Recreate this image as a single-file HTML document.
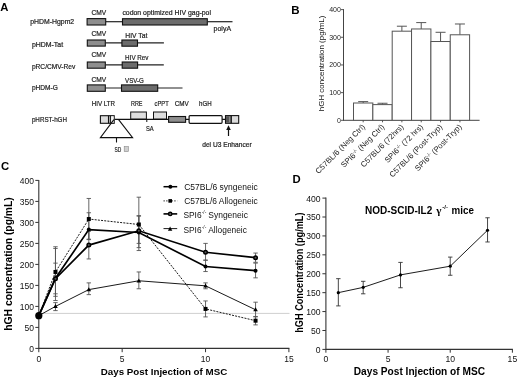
<!DOCTYPE html>
<html><head><meta charset="utf-8"><title>Figure</title>
<style>
html,body{margin:0;padding:0;background:#fff;}
body{width:520px;height:381px;overflow:hidden;}
svg{display:block;font-family:"Liberation Sans", sans-serif;filter:blur(0.3px);}
</style></head>
<body>
<svg width="520" height="381" viewBox="0 0 520 381">
<rect x="0" y="0" width="520" height="381" fill="#fff"/>
<text x="0.2" y="11" font-size="11.3" font-weight="bold" text-anchor="start" fill="#000">A</text>
<text x="291.3" y="14.1" font-size="11.5" font-weight="bold" text-anchor="start" fill="#000">B</text>
<text x="1.0" y="169.6" font-size="11.3" font-weight="bold" text-anchor="start" fill="#000">C</text>
<text x="292.6" y="182.8" font-size="11.3" font-weight="bold" text-anchor="start" fill="#000">D</text>
<text x="30.3" y="23.5" font-size="7.2" text-anchor="start" fill="#1a1a1a" textLength="43.9" lengthAdjust="spacingAndGlyphs" stroke="#1a1a1a" stroke-width="0.2">pHDM-Hgpm2</text>
<text x="31.9" y="47.3" font-size="7.2" text-anchor="start" fill="#1a1a1a" textLength="31.2" lengthAdjust="spacingAndGlyphs" stroke="#1a1a1a" stroke-width="0.2">pHDM-Tat</text>
<text x="31.9" y="69.2" font-size="7.2" text-anchor="start" fill="#1a1a1a" textLength="43.4" lengthAdjust="spacingAndGlyphs" stroke="#1a1a1a" stroke-width="0.2">pRC/CMV-Rev</text>
<text x="31.9" y="89.8" font-size="7.2" text-anchor="start" fill="#1a1a1a" textLength="25.9" lengthAdjust="spacingAndGlyphs" stroke="#1a1a1a" stroke-width="0.2">pHDM-G</text>
<text x="31.9" y="122.3" font-size="7.2" text-anchor="start" fill="#1a1a1a" textLength="35.1" lengthAdjust="spacingAndGlyphs" stroke="#1a1a1a" stroke-width="0.2">pHRST-hGH</text>
<line x1="106" y1="21.7" x2="122.2" y2="21.7" stroke="#222" stroke-width="1.2"/>
<line x1="207.6" y1="21.7" x2="232.5" y2="21.7" stroke="#222" stroke-width="1.2"/>
<rect x="87.1" y="18.6" width="18.6" height="6.4" fill="#8e8e8e" stroke="#111" stroke-width="1.1"/>
<rect x="122.5" y="18.7" width="84.8" height="6.3" fill="#6c6c6c" stroke="#111" stroke-width="1.1"/>
<text x="91.6" y="15.0" font-size="7.2" text-anchor="start" fill="#1a1a1a" textLength="14.7" lengthAdjust="spacingAndGlyphs" stroke="#1a1a1a" stroke-width="0.2">CMV</text>
<text x="122.4" y="15.3" font-size="7.2" text-anchor="start" fill="#1a1a1a" textLength="88.6" lengthAdjust="spacingAndGlyphs" stroke="#1a1a1a" stroke-width="0.2">codon optimized HIV gag-pol</text>
<text x="213.6" y="31.2" font-size="7.2" text-anchor="start" fill="#1a1a1a" textLength="17.5" lengthAdjust="spacingAndGlyphs" stroke="#1a1a1a" stroke-width="0.2">polyA</text>
<line x1="105.6" y1="42.8" x2="163.9" y2="42.8" stroke="#222" stroke-width="1.2"/>
<rect x="87.3" y="40.0" width="18.0" height="6.1" fill="#8e8e8e" stroke="#111" stroke-width="1.1"/>
<rect x="121.9" y="40.0" width="15.6" height="6.2" fill="#6c6c6c" stroke="#111" stroke-width="1.1"/>
<text x="91.6" y="36.0" font-size="7.2" text-anchor="start" fill="#1a1a1a" textLength="14.7" lengthAdjust="spacingAndGlyphs" stroke="#1a1a1a" stroke-width="0.2">CMV</text>
<text x="125.3" y="37.7" font-size="7.2" text-anchor="start" fill="#1a1a1a" textLength="22.0" lengthAdjust="spacingAndGlyphs" stroke="#1a1a1a" stroke-width="0.2">HIV Tat</text>
<line x1="105.6" y1="64.9" x2="163.8" y2="64.9" stroke="#222" stroke-width="1.2"/>
<rect x="87.3" y="62.0" width="18.0" height="6.2" fill="#8e8e8e" stroke="#111" stroke-width="1.1"/>
<rect x="122.2" y="62.0" width="15.4" height="6.2" fill="#6c6c6c" stroke="#111" stroke-width="1.1"/>
<text x="91.6" y="56.8" font-size="7.2" text-anchor="start" fill="#1a1a1a" textLength="14.7" lengthAdjust="spacingAndGlyphs" stroke="#1a1a1a" stroke-width="0.2">CMV</text>
<text x="125.1" y="59.7" font-size="7.2" text-anchor="start" fill="#1a1a1a" textLength="23.4" lengthAdjust="spacingAndGlyphs" stroke="#1a1a1a" stroke-width="0.2">HIV Rev</text>
<line x1="105.6" y1="88.0" x2="182.5" y2="88.0" stroke="#222" stroke-width="1.2"/>
<rect x="87.3" y="84.9" width="18.0" height="6.4" fill="#8e8e8e" stroke="#111" stroke-width="1.1"/>
<rect x="121.5" y="84.9" width="36.2" height="6.4" fill="#6c6c6c" stroke="#111" stroke-width="1.1"/>
<text x="91.6" y="81.9" font-size="7.2" text-anchor="start" fill="#1a1a1a" textLength="14.7" lengthAdjust="spacingAndGlyphs" stroke="#1a1a1a" stroke-width="0.2">CMV</text>
<text x="125.1" y="82.8" font-size="7.2" text-anchor="start" fill="#1a1a1a" textLength="18.8" lengthAdjust="spacingAndGlyphs" stroke="#1a1a1a" stroke-width="0.2">VSV-G</text>
<line x1="114.6" y1="119.3" x2="225" y2="119.3" stroke="#111" stroke-width="1.2"/>
<rect x="100.4" y="115.7" width="13.8" height="7.6" fill="#dcdcdc" stroke="#111" stroke-width="1.1"/>
<line x1="108.6" y1="115.7" x2="108.6" y2="123.3" stroke="#111" stroke-width="1.3"/>
<line x1="110.6" y1="115.7" x2="110.6" y2="123.3" stroke="#111" stroke-width="1.0"/>
<rect x="111.2" y="116.3" width="2.4" height="6.4" fill="#f4f4f4" stroke="none" stroke-width="0"/>
<path d="M113.9 119.7 L100.4 137.6 L132.6 137.6 L118.6 119.7" fill="none" stroke="#111" stroke-width="1.1"/>
<line x1="116.5" y1="137.6" x2="116.5" y2="142.5" stroke="#111" stroke-width="1.1"/>
<text x="114.4" y="151.6" font-size="7.2" text-anchor="start" fill="#1a1a1a" textLength="6.8" lengthAdjust="spacingAndGlyphs" stroke="#1a1a1a" stroke-width="0.2">SD</text>
<rect x="124.2" y="146.6" width="4.2" height="5.0" fill="#cfcfcf" stroke="#888" stroke-width="0.6"/>
<rect x="130.7" y="112.0" width="15.7" height="7.0" fill="#dedede" stroke="#111" stroke-width="1.0"/>
<rect x="153.5" y="112.0" width="13.0" height="7.0" fill="#dedede" stroke="#111" stroke-width="1.0"/>
<line x1="146.8" y1="119.3" x2="146.8" y2="122.0" stroke="#111" stroke-width="1.0"/>
<text x="145.9" y="131.4" font-size="7.2" text-anchor="start" fill="#1a1a1a" textLength="7.7" lengthAdjust="spacingAndGlyphs" stroke="#1a1a1a" stroke-width="0.2">SA</text>
<text x="131.0" y="105.7" font-size="7.2" text-anchor="start" fill="#1a1a1a" textLength="11.5" lengthAdjust="spacingAndGlyphs" stroke="#1a1a1a" stroke-width="0.2">RRE</text>
<text x="154.6" y="105.7" font-size="7.2" text-anchor="start" fill="#1a1a1a" textLength="14.1" lengthAdjust="spacingAndGlyphs" stroke="#1a1a1a" stroke-width="0.2">cPPT</text>
<text x="91.7" y="106.2" font-size="7.2" text-anchor="start" fill="#1a1a1a" textLength="23.4" lengthAdjust="spacingAndGlyphs" stroke="#1a1a1a" stroke-width="0.2">HIV LTR</text>
<text x="174.7" y="105.7" font-size="7.2" text-anchor="start" fill="#1a1a1a" textLength="14.1" lengthAdjust="spacingAndGlyphs" stroke="#1a1a1a" stroke-width="0.2">CMV</text>
<text x="199.0" y="105.7" font-size="7.2" text-anchor="start" fill="#1a1a1a" textLength="12.6" lengthAdjust="spacingAndGlyphs" stroke="#1a1a1a" stroke-width="0.2">hGH</text>
<rect x="168.6" y="116.5" width="17.0" height="5.8" fill="#8e8e8e" stroke="#111" stroke-width="1.1"/>
<rect x="189.1" y="115.6" width="33.0" height="7.7" fill="#ffffff" stroke="#111" stroke-width="1.2" rx="1"/>
<rect x="225.5" y="115.6" width="13.2" height="7.7" fill="#dcdcdc" stroke="#111" stroke-width="1.1"/>
<rect x="226.0" y="116.1" width="3.0" height="6.7" fill="#555" stroke="none" stroke-width="0"/>
<line x1="230.1" y1="115.6" x2="230.1" y2="123.3" stroke="#111" stroke-width="1.0"/>
<line x1="231.4" y1="115.6" x2="231.4" y2="123.3" stroke="#111" stroke-width="1.0"/>
<line x1="228.5" y1="128.5" x2="228.5" y2="136.0" stroke="#111" stroke-width="1.2"/>
<path d="M228.5 125.3 L226.2 130.0 L230.8 130.0 Z" fill="#111"/>
<text x="202.2" y="146.8" font-size="7.2" text-anchor="start" fill="#1a1a1a" textLength="49.5" lengthAdjust="spacingAndGlyphs" stroke="#1a1a1a" stroke-width="0.2">del U3 Enhancer</text>
<line x1="343.5" y1="9.1" x2="343.5" y2="120.8" stroke="#444" stroke-width="1.0"/>
<line x1="343.5" y1="120.3" x2="479.6" y2="120.3" stroke="#444" stroke-width="1.0"/>
<line x1="341.0" y1="120.3" x2="343.5" y2="120.3" stroke="#444" stroke-width="0.9"/>
<text x="340.9" y="122.8" font-size="7.0" text-anchor="end" fill="#222">0</text>
<line x1="341.0" y1="92.625" x2="343.5" y2="92.625" stroke="#444" stroke-width="0.9"/>
<text x="340.9" y="95.125" font-size="7.0" text-anchor="end" fill="#222">100</text>
<line x1="341.0" y1="64.94999999999999" x2="343.5" y2="64.94999999999999" stroke="#444" stroke-width="0.9"/>
<text x="340.9" y="67.44999999999999" font-size="7.0" text-anchor="end" fill="#222">200</text>
<line x1="341.0" y1="37.27499999999999" x2="343.5" y2="37.27499999999999" stroke="#444" stroke-width="0.9"/>
<text x="340.9" y="39.77499999999999" font-size="7.0" text-anchor="end" fill="#222">300</text>
<line x1="341.0" y1="9.599999999999994" x2="343.5" y2="9.599999999999994" stroke="#444" stroke-width="0.9"/>
<text x="340.9" y="12.099999999999994" font-size="7.0" text-anchor="end" fill="#222">400</text>
<text x="0" y="0" font-size="8.0" text-anchor="middle" fill="#111" textLength="95.6" lengthAdjust="spacingAndGlyphs" transform="translate(324.3 63.4) rotate(-90)">hGH concentration (pg/mL)</text>
<line x1="363.175" y1="103.003125" x2="363.175" y2="101.61937499999999" stroke="#555" stroke-width="1.0"/>
<line x1="358.175" y1="101.61937499999999" x2="368.175" y2="101.61937499999999" stroke="#555" stroke-width="1.0"/>
<rect x="353.5" y="103.003125" width="19.350000000000023" height="17.296875" fill="#fff" stroke="#555" stroke-width="1"/>
<line x1="363.175" y1="120.3" x2="363.175" y2="122.3" stroke="#444" stroke-width="0.9"/>
<text font-size="7.8" text-anchor="end" fill="#222" transform="translate(365.475 127.3) rotate(-45)">C57BL/6 (Neg Ctrl)</text>
<line x1="382.525" y1="104.60827499999999" x2="382.525" y2="103.2522" stroke="#555" stroke-width="1.0"/>
<line x1="377.525" y1="103.2522" x2="387.525" y2="103.2522" stroke="#555" stroke-width="1.0"/>
<rect x="372.85" y="104.60827499999999" width="19.349999999999966" height="15.691725000000005" fill="#fff" stroke="#555" stroke-width="1"/>
<line x1="382.525" y1="120.3" x2="382.525" y2="122.3" stroke="#444" stroke-width="0.9"/>
<text font-size="7.8" text-anchor="end" fill="#222" transform="translate(384.825 127.3) rotate(-45)">SPI6<tspan dy="-2.6" font-size="5">-/-</tspan><tspan dy="2.6"> (Neg Ctrl)</tspan></text>
<line x1="401.875" y1="31.186499999999995" x2="401.875" y2="26.205" stroke="#555" stroke-width="1.0"/>
<line x1="396.875" y1="26.205" x2="406.875" y2="26.205" stroke="#555" stroke-width="1.0"/>
<rect x="392.2" y="31.186499999999995" width="19.350000000000023" height="89.1135" fill="#fff" stroke="#555" stroke-width="1"/>
<line x1="401.875" y1="120.3" x2="401.875" y2="122.3" stroke="#444" stroke-width="0.9"/>
<text font-size="7.8" text-anchor="end" fill="#222" transform="translate(404.175 127.3) rotate(-45)">C57BL/6 (72hrs)</text>
<line x1="421.225" y1="28.972499999999997" x2="421.225" y2="22.607249999999993" stroke="#555" stroke-width="1.0"/>
<line x1="416.225" y1="22.607249999999993" x2="426.225" y2="22.607249999999993" stroke="#555" stroke-width="1.0"/>
<rect x="411.55" y="28.972499999999997" width="19.349999999999966" height="91.3275" fill="#fff" stroke="#555" stroke-width="1"/>
<line x1="421.225" y1="120.3" x2="421.225" y2="122.3" stroke="#444" stroke-width="0.9"/>
<text font-size="7.8" text-anchor="end" fill="#222" transform="translate(423.52500000000003 127.3) rotate(-45)">SPI6<tspan dy="-2.6" font-size="5">-/-</tspan><tspan dy="2.6"> (72 hrs)</tspan></text>
<line x1="440.575" y1="41.509275" x2="440.575" y2="32.293499999999995" stroke="#555" stroke-width="1.0"/>
<line x1="435.575" y1="32.293499999999995" x2="445.575" y2="32.293499999999995" stroke="#555" stroke-width="1.0"/>
<rect x="430.9" y="41.509275" width="19.350000000000023" height="78.790725" fill="#fff" stroke="#555" stroke-width="1"/>
<line x1="440.575" y1="120.3" x2="440.575" y2="122.3" stroke="#444" stroke-width="0.9"/>
<text font-size="7.8" text-anchor="end" fill="#222" transform="translate(442.875 127.3) rotate(-45)">C57BL/6 (Post-Tryp)</text>
<line x1="459.925" y1="34.78425" x2="459.925" y2="23.991" stroke="#555" stroke-width="1.0"/>
<line x1="454.925" y1="23.991" x2="464.925" y2="23.991" stroke="#555" stroke-width="1.0"/>
<rect x="450.25" y="34.78425" width="19.350000000000023" height="85.51575" fill="#fff" stroke="#555" stroke-width="1"/>
<line x1="459.925" y1="120.3" x2="459.925" y2="122.3" stroke="#444" stroke-width="0.9"/>
<text font-size="7.8" text-anchor="end" fill="#222" transform="translate(462.225 127.3) rotate(-45)">SPI6<tspan dy="-2.6" font-size="5">-/-</tspan><tspan dy="2.6"> (Post-Tryp)</tspan></text>
<line x1="38.8" y1="313.4" x2="289.5" y2="313.4" stroke="#cfcfcf" stroke-width="1.0"/>
<line x1="38.8" y1="179.9" x2="38.8" y2="348.9" stroke="#333" stroke-width="1.1"/>
<line x1="38.8" y1="348.4" x2="289.4" y2="348.4" stroke="#333" stroke-width="1.1"/>
<line x1="35.3" y1="348.4" x2="38.8" y2="348.4" stroke="#333" stroke-width="1.0"/>
<text x="33.9" y="351.9" font-size="8.5" text-anchor="end" fill="#111">0</text>
<line x1="35.3" y1="327.4" x2="38.8" y2="327.4" stroke="#333" stroke-width="1.0"/>
<text x="33.9" y="330.9" font-size="8.5" text-anchor="end" fill="#111">50</text>
<line x1="35.3" y1="306.4" x2="38.8" y2="306.4" stroke="#333" stroke-width="1.0"/>
<text x="33.9" y="309.9" font-size="8.5" text-anchor="end" fill="#111">100</text>
<line x1="35.3" y1="285.4" x2="38.8" y2="285.4" stroke="#333" stroke-width="1.0"/>
<text x="33.9" y="288.9" font-size="8.5" text-anchor="end" fill="#111">150</text>
<line x1="35.3" y1="264.4" x2="38.8" y2="264.4" stroke="#333" stroke-width="1.0"/>
<text x="33.9" y="267.9" font-size="8.5" text-anchor="end" fill="#111">200</text>
<line x1="35.3" y1="243.39999999999998" x2="38.8" y2="243.39999999999998" stroke="#333" stroke-width="1.0"/>
<text x="33.9" y="246.89999999999998" font-size="8.5" text-anchor="end" fill="#111">250</text>
<line x1="35.3" y1="222.39999999999998" x2="38.8" y2="222.39999999999998" stroke="#333" stroke-width="1.0"/>
<text x="33.9" y="225.89999999999998" font-size="8.5" text-anchor="end" fill="#111">300</text>
<line x1="35.3" y1="201.39999999999998" x2="38.8" y2="201.39999999999998" stroke="#333" stroke-width="1.0"/>
<text x="33.9" y="204.89999999999998" font-size="8.5" text-anchor="end" fill="#111">350</text>
<line x1="35.3" y1="180.39999999999998" x2="38.8" y2="180.39999999999998" stroke="#333" stroke-width="1.0"/>
<text x="33.9" y="183.89999999999998" font-size="8.5" text-anchor="end" fill="#111">400</text>
<line x1="38.8" y1="348.4" x2="38.8" y2="352.2" stroke="#333" stroke-width="1.0"/>
<text x="38.8" y="361.7" font-size="8.5" text-anchor="middle" fill="#111">0</text>
<line x1="122.16666666666666" y1="348.4" x2="122.16666666666666" y2="352.2" stroke="#333" stroke-width="1.0"/>
<text x="122.16666666666666" y="361.7" font-size="8.5" text-anchor="middle" fill="#111">5</text>
<line x1="205.5333333333333" y1="348.4" x2="205.5333333333333" y2="352.2" stroke="#333" stroke-width="1.0"/>
<text x="205.5333333333333" y="361.7" font-size="8.5" text-anchor="middle" fill="#111">10</text>
<line x1="288.9" y1="348.4" x2="288.9" y2="352.2" stroke="#333" stroke-width="1.0"/>
<text x="288.9" y="361.7" font-size="8.5" text-anchor="middle" fill="#111">15</text>
<text x="0" y="0" font-size="10.2" font-weight="bold" text-anchor="middle" fill="#000" textLength="133.4" lengthAdjust="spacingAndGlyphs" transform="translate(11.8 264) rotate(-90)">hGH concentration (pg/mL)</text>
<text x="164.0" y="374.8" font-size="9.8" font-weight="bold" text-anchor="middle" fill="#000" textLength="126.5" lengthAdjust="spacingAndGlyphs">Days Post Injection of MSC</text>
<line x1="55.47333333333333" y1="293.79999999999995" x2="55.47333333333333" y2="263.14" stroke="#555" stroke-width="0.9"/>
<line x1="53.273333333333326" y1="293.79999999999995" x2="57.67333333333333" y2="293.79999999999995" stroke="#555" stroke-width="0.9"/>
<line x1="53.273333333333326" y1="263.14" x2="57.67333333333333" y2="263.14" stroke="#555" stroke-width="0.9"/>
<line x1="88.82" y1="239.2" x2="88.82" y2="212.73999999999998" stroke="#555" stroke-width="0.9"/>
<line x1="86.61999999999999" y1="239.2" x2="91.02" y2="239.2" stroke="#555" stroke-width="0.9"/>
<line x1="86.61999999999999" y1="212.73999999999998" x2="91.02" y2="212.73999999999998" stroke="#555" stroke-width="0.9"/>
<line x1="138.83999999999997" y1="247.59999999999997" x2="138.83999999999997" y2="216.1" stroke="#555" stroke-width="0.9"/>
<line x1="136.64" y1="247.59999999999997" x2="141.03999999999996" y2="247.59999999999997" stroke="#555" stroke-width="0.9"/>
<line x1="136.64" y1="216.1" x2="141.03999999999996" y2="216.1" stroke="#555" stroke-width="0.9"/>
<line x1="205.5333333333333" y1="271.53999999999996" x2="205.5333333333333" y2="260.2" stroke="#555" stroke-width="0.9"/>
<line x1="203.33333333333331" y1="271.53999999999996" x2="207.7333333333333" y2="271.53999999999996" stroke="#555" stroke-width="0.9"/>
<line x1="203.33333333333331" y1="260.2" x2="207.7333333333333" y2="260.2" stroke="#555" stroke-width="0.9"/>
<line x1="255.55333333333334" y1="277.84" x2="255.55333333333334" y2="263.14" stroke="#555" stroke-width="0.9"/>
<line x1="253.35333333333335" y1="277.84" x2="257.75333333333333" y2="277.84" stroke="#555" stroke-width="0.9"/>
<line x1="253.35333333333335" y1="263.14" x2="257.75333333333333" y2="263.14" stroke="#555" stroke-width="0.9"/>
<line x1="55.47333333333333" y1="296.32" x2="55.47333333333333" y2="246.76" stroke="#555" stroke-width="0.9"/>
<line x1="53.273333333333326" y1="296.32" x2="57.67333333333333" y2="296.32" stroke="#555" stroke-width="0.9"/>
<line x1="53.273333333333326" y1="246.76" x2="57.67333333333333" y2="246.76" stroke="#555" stroke-width="0.9"/>
<line x1="88.82" y1="239.61999999999998" x2="88.82" y2="198.45999999999998" stroke="#555" stroke-width="0.9"/>
<line x1="86.61999999999999" y1="239.61999999999998" x2="91.02" y2="239.61999999999998" stroke="#555" stroke-width="0.9"/>
<line x1="86.61999999999999" y1="198.45999999999998" x2="91.02" y2="198.45999999999998" stroke="#555" stroke-width="0.9"/>
<line x1="138.83999999999997" y1="250.53999999999996" x2="138.83999999999997" y2="197.2" stroke="#555" stroke-width="0.9"/>
<line x1="136.64" y1="250.53999999999996" x2="141.03999999999996" y2="250.53999999999996" stroke="#555" stroke-width="0.9"/>
<line x1="136.64" y1="197.2" x2="141.03999999999996" y2="197.2" stroke="#555" stroke-width="0.9"/>
<line x1="205.5333333333333" y1="316.9" x2="205.5333333333333" y2="300.94" stroke="#555" stroke-width="0.9"/>
<line x1="203.33333333333331" y1="316.9" x2="207.7333333333333" y2="316.9" stroke="#555" stroke-width="0.9"/>
<line x1="203.33333333333331" y1="300.94" x2="207.7333333333333" y2="300.94" stroke="#555" stroke-width="0.9"/>
<line x1="255.55333333333334" y1="324.88" x2="255.55333333333334" y2="316.47999999999996" stroke="#555" stroke-width="0.9"/>
<line x1="253.35333333333335" y1="324.88" x2="257.75333333333333" y2="324.88" stroke="#555" stroke-width="0.9"/>
<line x1="253.35333333333335" y1="316.47999999999996" x2="257.75333333333333" y2="316.47999999999996" stroke="#555" stroke-width="0.9"/>
<line x1="55.47333333333333" y1="300.52" x2="55.47333333333333" y2="248.44" stroke="#555" stroke-width="0.9"/>
<line x1="53.273333333333326" y1="300.52" x2="57.67333333333333" y2="300.52" stroke="#555" stroke-width="0.9"/>
<line x1="53.273333333333326" y1="248.44" x2="57.67333333333333" y2="248.44" stroke="#555" stroke-width="0.9"/>
<line x1="88.82" y1="258.94" x2="88.82" y2="231.21999999999997" stroke="#555" stroke-width="0.9"/>
<line x1="86.61999999999999" y1="258.94" x2="91.02" y2="258.94" stroke="#555" stroke-width="0.9"/>
<line x1="86.61999999999999" y1="231.21999999999997" x2="91.02" y2="231.21999999999997" stroke="#555" stroke-width="0.9"/>
<line x1="138.83999999999997" y1="243.39999999999998" x2="138.83999999999997" y2="215.67999999999998" stroke="#555" stroke-width="0.9"/>
<line x1="136.64" y1="243.39999999999998" x2="141.03999999999996" y2="243.39999999999998" stroke="#555" stroke-width="0.9"/>
<line x1="136.64" y1="215.67999999999998" x2="141.03999999999996" y2="215.67999999999998" stroke="#555" stroke-width="0.9"/>
<line x1="205.5333333333333" y1="260.2" x2="205.5333333333333" y2="243.39999999999998" stroke="#555" stroke-width="0.9"/>
<line x1="203.33333333333331" y1="260.2" x2="207.7333333333333" y2="260.2" stroke="#555" stroke-width="0.9"/>
<line x1="203.33333333333331" y1="243.39999999999998" x2="207.7333333333333" y2="243.39999999999998" stroke="#555" stroke-width="0.9"/>
<line x1="255.55333333333334" y1="262.29999999999995" x2="255.55333333333334" y2="253.05999999999997" stroke="#555" stroke-width="0.9"/>
<line x1="253.35333333333335" y1="262.29999999999995" x2="257.75333333333333" y2="262.29999999999995" stroke="#555" stroke-width="0.9"/>
<line x1="253.35333333333335" y1="253.05999999999997" x2="257.75333333333333" y2="253.05999999999997" stroke="#555" stroke-width="0.9"/>
<line x1="55.47333333333333" y1="310.59999999999997" x2="55.47333333333333" y2="302.62" stroke="#555" stroke-width="0.9"/>
<line x1="53.273333333333326" y1="310.59999999999997" x2="57.67333333333333" y2="310.59999999999997" stroke="#555" stroke-width="0.9"/>
<line x1="53.273333333333326" y1="302.62" x2="57.67333333333333" y2="302.62" stroke="#555" stroke-width="0.9"/>
<line x1="88.82" y1="294.64" x2="88.82" y2="282.88" stroke="#555" stroke-width="0.9"/>
<line x1="86.61999999999999" y1="294.64" x2="91.02" y2="294.64" stroke="#555" stroke-width="0.9"/>
<line x1="86.61999999999999" y1="282.88" x2="91.02" y2="282.88" stroke="#555" stroke-width="0.9"/>
<line x1="138.83999999999997" y1="288.76" x2="138.83999999999997" y2="271.96" stroke="#555" stroke-width="0.9"/>
<line x1="136.64" y1="288.76" x2="141.03999999999996" y2="288.76" stroke="#555" stroke-width="0.9"/>
<line x1="136.64" y1="271.96" x2="141.03999999999996" y2="271.96" stroke="#555" stroke-width="0.9"/>
<line x1="205.5333333333333" y1="288.76" x2="205.5333333333333" y2="282.88" stroke="#555" stroke-width="0.9"/>
<line x1="203.33333333333331" y1="288.76" x2="207.7333333333333" y2="288.76" stroke="#555" stroke-width="0.9"/>
<line x1="203.33333333333331" y1="282.88" x2="207.7333333333333" y2="282.88" stroke="#555" stroke-width="0.9"/>
<line x1="255.55333333333334" y1="316.9" x2="255.55333333333334" y2="302.2" stroke="#555" stroke-width="0.9"/>
<line x1="253.35333333333335" y1="316.9" x2="257.75333333333333" y2="316.9" stroke="#555" stroke-width="0.9"/>
<line x1="253.35333333333335" y1="302.2" x2="257.75333333333333" y2="302.2" stroke="#555" stroke-width="0.9"/>
<polyline points="38.80,315.64 55.47,306.40 88.82,289.60 138.84,280.78 205.53,285.82 255.55,309.76" fill="none" stroke="#000" stroke-width="0.9"/>
<polyline points="38.80,315.64 55.47,271.96 88.82,219.04 138.84,224.50 205.53,308.92 255.55,320.68" fill="none" stroke="#000" stroke-width="0.9" stroke-dasharray="2 1.2"/>
<polyline points="38.80,315.64 55.47,278.26 88.82,229.54 138.84,232.48 205.53,266.50 255.55,270.70" fill="none" stroke="#000" stroke-width="1.7"/>
<polyline points="38.80,315.64 55.47,278.68 88.82,245.08 138.84,230.80 205.53,252.22 255.55,257.68" fill="none" stroke="#000" stroke-width="1.7"/>
<path d="M55.47 304.00 L57.77 308.00 L53.17 308.00 Z" fill="#000"/>
<path d="M88.82 287.20 L91.12 291.20 L86.52 291.20 Z" fill="#000"/>
<path d="M138.84 278.38 L141.14 282.38 L136.54 282.38 Z" fill="#000"/>
<path d="M205.53 283.42 L207.83 287.42 L203.23 287.42 Z" fill="#000"/>
<path d="M255.55 307.36 L257.85 311.36 L253.25 311.36 Z" fill="#000"/>
<rect x="53.47" y="269.96" width="4" height="4" fill="#000"/>
<rect x="86.82" y="217.04" width="4" height="4" fill="#000"/>
<rect x="136.84" y="222.50" width="4" height="4" fill="#000"/>
<rect x="203.53" y="306.92" width="4" height="4" fill="#000"/>
<rect x="253.55" y="318.68" width="4" height="4" fill="#000"/>
<circle cx="55.47" cy="278.26" r="2.0" fill="#000"/>
<circle cx="88.82" cy="229.54" r="2.0" fill="#000"/>
<circle cx="138.84" cy="232.48" r="2.0" fill="#000"/>
<circle cx="205.53" cy="266.50" r="2.0" fill="#000"/>
<circle cx="255.55" cy="270.70" r="2.0" fill="#000"/>
<circle cx="55.47" cy="278.68" r="1.75" fill="#555" stroke="#000" stroke-width="1.5"/>
<circle cx="88.82" cy="245.08" r="1.75" fill="#555" stroke="#000" stroke-width="1.5"/>
<circle cx="138.84" cy="230.80" r="1.75" fill="#555" stroke="#000" stroke-width="1.5"/>
<circle cx="205.53" cy="252.22" r="1.75" fill="#555" stroke="#000" stroke-width="1.5"/>
<circle cx="255.55" cy="257.68" r="1.75" fill="#555" stroke="#000" stroke-width="1.5"/>
<circle cx="38.80" cy="315.64" r="3.6" fill="#000"/>
<line x1="163.5" y1="186.7" x2="177.2" y2="186.7" stroke="#000" stroke-width="1.5"/>
<circle cx="170.4" cy="186.7" r="2.0" fill="#000"/>
<line x1="163.5" y1="200.9" x2="177.2" y2="200.9" stroke="#000" stroke-width="0.9" stroke-dasharray="1.3 1.4"/>
<rect x="168.4" y="199.1" width="3.6" height="3.6" fill="#000"/>
<line x1="163.5" y1="213.9" x2="177.2" y2="213.9" stroke="#000" stroke-width="1.6"/>
<circle cx="170.2" cy="213.9" r="1.7" fill="#666" stroke="#000" stroke-width="1.4"/>
<line x1="163.5" y1="228.6" x2="177.2" y2="228.6" stroke="#000" stroke-width="0.9"/>
<path d="M170.1 226.6 L172.3 230.79999999999998 L167.9 230.79999999999998 Z" fill="#000"/>
<text x="184.2" y="189.79999999999998" font-size="8.5" text-anchor="start" fill="#111" textLength="73.6" lengthAdjust="spacingAndGlyphs">C57BL/6 syngeneic</text>
<text x="184.2" y="204.0" font-size="8.5" text-anchor="start" fill="#111" textLength="73.6" lengthAdjust="spacingAndGlyphs">C57BL/6 Allogeneic</text>
<text x="183.4" y="217.9" font-size="8.5" text-anchor="start" fill="#111" textLength="18.2" lengthAdjust="spacingAndGlyphs">SPI6</text>
<text x="201.8" y="213.9" font-size="5.4" text-anchor="start" fill="#111" textLength="4.4" lengthAdjust="spacingAndGlyphs">-/-</text>
<text x="208.3" y="217.9" font-size="8.5" text-anchor="start" fill="#111" textLength="39.6" lengthAdjust="spacingAndGlyphs">Syngeneic</text>
<text x="183.4" y="232.9" font-size="8.5" text-anchor="start" fill="#111" textLength="18.2" lengthAdjust="spacingAndGlyphs">SPI6</text>
<text x="201.8" y="228.9" font-size="5.4" text-anchor="start" fill="#111" textLength="4.4" lengthAdjust="spacingAndGlyphs">-/-</text>
<text x="208.3" y="232.9" font-size="8.5" text-anchor="start" fill="#111" textLength="38.6" lengthAdjust="spacingAndGlyphs">Allogeneic</text>
<line x1="325.9" y1="197.6" x2="325.9" y2="349.9" stroke="#333" stroke-width="1.1"/>
<line x1="325.9" y1="349.4" x2="512.9" y2="349.4" stroke="#333" stroke-width="1.1"/>
<line x1="322.4" y1="349.4" x2="325.9" y2="349.4" stroke="#333" stroke-width="1.0"/>
<text x="320.6" y="352.79999999999995" font-size="8.6" text-anchor="end" fill="#111">0</text>
<line x1="322.4" y1="330.48749999999995" x2="325.9" y2="330.48749999999995" stroke="#333" stroke-width="1.0"/>
<text x="320.6" y="333.88749999999993" font-size="8.6" text-anchor="end" fill="#111">50</text>
<line x1="322.4" y1="311.575" x2="325.9" y2="311.575" stroke="#333" stroke-width="1.0"/>
<text x="320.6" y="314.97499999999997" font-size="8.6" text-anchor="end" fill="#111">100</text>
<line x1="322.4" y1="292.66249999999997" x2="325.9" y2="292.66249999999997" stroke="#333" stroke-width="1.0"/>
<text x="320.6" y="296.06249999999994" font-size="8.6" text-anchor="end" fill="#111">150</text>
<line x1="322.4" y1="273.75" x2="325.9" y2="273.75" stroke="#333" stroke-width="1.0"/>
<text x="320.6" y="277.15" font-size="8.6" text-anchor="end" fill="#111">200</text>
<line x1="322.4" y1="254.83749999999998" x2="325.9" y2="254.83749999999998" stroke="#333" stroke-width="1.0"/>
<text x="320.6" y="258.23749999999995" font-size="8.6" text-anchor="end" fill="#111">250</text>
<line x1="322.4" y1="235.92499999999998" x2="325.9" y2="235.92499999999998" stroke="#333" stroke-width="1.0"/>
<text x="320.6" y="239.325" font-size="8.6" text-anchor="end" fill="#111">300</text>
<line x1="322.4" y1="217.0125" x2="325.9" y2="217.0125" stroke="#333" stroke-width="1.0"/>
<text x="320.6" y="220.4125" font-size="8.6" text-anchor="end" fill="#111">350</text>
<line x1="322.4" y1="198.1" x2="325.9" y2="198.1" stroke="#333" stroke-width="1.0"/>
<text x="320.6" y="201.5" font-size="8.6" text-anchor="end" fill="#111">400</text>
<line x1="325.9" y1="349.4" x2="325.9" y2="352.7" stroke="#333" stroke-width="1.0"/>
<text x="325.9" y="361.8" font-size="8.6" text-anchor="middle" fill="#111">0</text>
<line x1="388.06666666666666" y1="349.4" x2="388.06666666666666" y2="352.7" stroke="#333" stroke-width="1.0"/>
<text x="388.06666666666666" y="361.8" font-size="8.6" text-anchor="middle" fill="#111">5</text>
<line x1="450.23333333333335" y1="349.4" x2="450.23333333333335" y2="352.7" stroke="#333" stroke-width="1.0"/>
<text x="450.23333333333335" y="361.8" font-size="8.6" text-anchor="middle" fill="#111">10</text>
<line x1="512.4" y1="349.4" x2="512.4" y2="352.7" stroke="#333" stroke-width="1.0"/>
<text x="512.4" y="361.8" font-size="8.6" text-anchor="middle" fill="#111">15</text>
<text x="0" y="0" font-size="10.0" font-weight="bold" text-anchor="middle" fill="#000" textLength="120.3" lengthAdjust="spacingAndGlyphs" transform="translate(303.2 272.65) rotate(-90)">hGH Concentration (pg/mL)</text>
<text x="419.4" y="375.2" font-size="10.2" font-weight="bold" text-anchor="middle" fill="#000" textLength="131.2" lengthAdjust="spacingAndGlyphs">Days Post Injection of MSC</text>
<text x="365.0" y="214.2" font-size="10" font-weight="bold" fill="#000">NOD-SCID-IL2</text>
<text x="436.2" y="214.0" font-size="11" font-weight="bold" font-family="Liberation Serif" fill="#000" textLength="5.2" lengthAdjust="spacingAndGlyphs">&#947;</text>
<text x="442.3" y="209.0" font-size="6.2" font-weight="bold" fill="#000" textLength="5.7" lengthAdjust="spacingAndGlyphs">-/-</text>
<text x="451.6" y="214.2" font-size="10" font-weight="bold" fill="#000" textLength="22.3" lengthAdjust="spacingAndGlyphs">mice</text>
<line x1="338.3333333333333" y1="305.90125" x2="338.3333333333333" y2="278.66724999999997" stroke="#333" stroke-width="0.9"/>
<line x1="336.1333333333333" y1="305.90125" x2="340.5333333333333" y2="305.90125" stroke="#333" stroke-width="0.9"/>
<line x1="336.1333333333333" y1="278.66724999999997" x2="340.5333333333333" y2="278.66724999999997" stroke="#333" stroke-width="0.9"/>
<line x1="363.2" y1="293.79724999999996" x2="363.2" y2="281.315" stroke="#333" stroke-width="0.9"/>
<line x1="361.0" y1="293.79724999999996" x2="365.4" y2="293.79724999999996" stroke="#333" stroke-width="0.9"/>
<line x1="361.0" y1="281.315" x2="365.4" y2="281.315" stroke="#333" stroke-width="0.9"/>
<line x1="400.5" y1="287.74525" x2="400.5" y2="262.4025" stroke="#333" stroke-width="0.9"/>
<line x1="398.3" y1="287.74525" x2="402.7" y2="287.74525" stroke="#333" stroke-width="0.9"/>
<line x1="398.3" y1="262.4025" x2="402.7" y2="262.4025" stroke="#333" stroke-width="0.9"/>
<line x1="450.23333333333335" y1="275.263" x2="450.23333333333335" y2="257.10699999999997" stroke="#333" stroke-width="0.9"/>
<line x1="448.03333333333336" y1="275.263" x2="452.43333333333334" y2="275.263" stroke="#333" stroke-width="0.9"/>
<line x1="448.03333333333336" y1="257.10699999999997" x2="452.43333333333334" y2="257.10699999999997" stroke="#333" stroke-width="0.9"/>
<line x1="487.5333333333333" y1="241.97699999999998" x2="487.5333333333333" y2="217.76899999999998" stroke="#333" stroke-width="0.9"/>
<line x1="485.3333333333333" y1="241.97699999999998" x2="489.7333333333333" y2="241.97699999999998" stroke="#333" stroke-width="0.9"/>
<line x1="485.3333333333333" y1="217.76899999999998" x2="489.7333333333333" y2="217.76899999999998" stroke="#333" stroke-width="0.9"/>
<polyline points="338.33,292.66 363.20,287.37 400.50,274.88 450.23,266.19 487.53,230.25" fill="none" stroke="#111" stroke-width="0.95"/>
<circle cx="338.33" cy="292.66" r="1.6" fill="#000"/>
<circle cx="363.20" cy="287.37" r="1.6" fill="#000"/>
<circle cx="400.50" cy="274.88" r="1.6" fill="#000"/>
<circle cx="450.23" cy="266.19" r="1.6" fill="#000"/>
<circle cx="487.53" cy="230.25" r="1.6" fill="#000"/>
</svg>
</body></html>
